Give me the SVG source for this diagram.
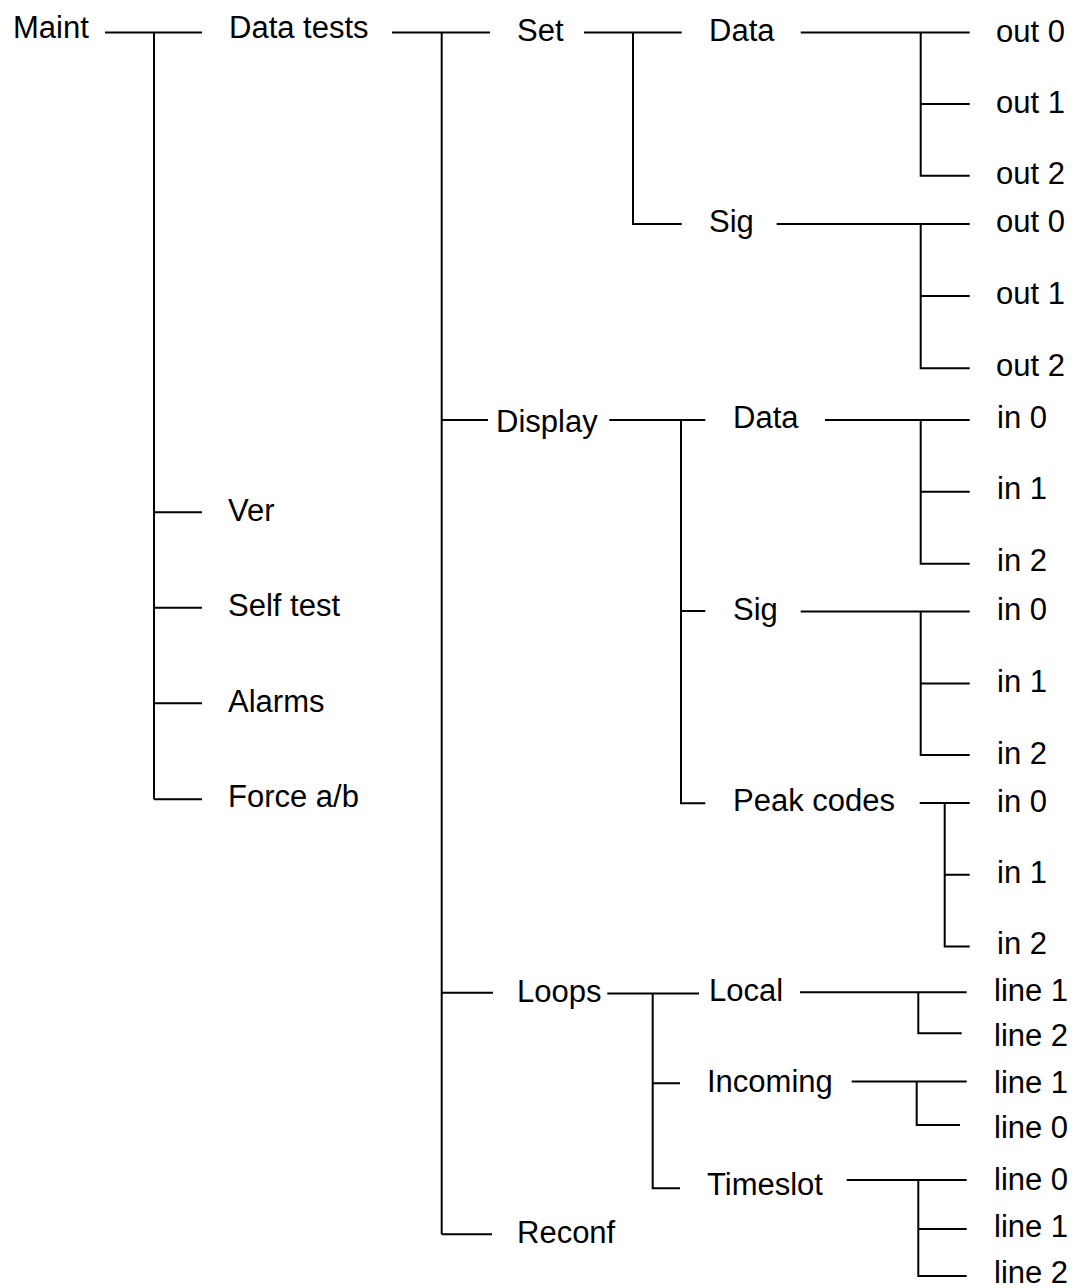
<svg xmlns="http://www.w3.org/2000/svg" width="1074" height="1288" viewBox="0 0 1074 1288">
<style>
text{font-family:"Liberation Sans",Arial,sans-serif;font-size:31px;fill:#000}
.c path{fill:none;stroke:#000;stroke-width:2}
</style>
<rect width="1074" height="1288" fill="#fff"/>
<g class="c" id="connectors">
<path d="M105 32.5H202M154 32.5V799.3M154 512.3H202M154 607.7H202M154 703.3H202M154 799.3H202"/>
<path d="M392 32.5H490M441.7 32.5V1234.3M441.7 420H488M441.7 992.7H493M441.7 1234.3H492"/>
<path d="M584 32.5H681.7M633 32.5V224H681.7"/>
<path d="M800.7 32.5H969.7M920.7 32.5V175.7H969.7M920.7 104H969.7"/>
<path d="M776.7 224H969.7M920.7 224V368.3H969.7M920.7 296H969.7"/>
<path d="M609.3 420H705.3M681 420V803.3H705.3M681 611H705.3"/>
<path d="M825 420H969.7M920.7 420V563.7H969.7M920.7 491.7H969.7"/>
<path d="M800.7 611.5H969.7M920.7 611.5V755H969.7M920.7 683.5H969.7"/>
<path d="M919.7 803H969.7M944.7 803V946.4H969.7M944.7 874.8H969.7"/>
<path d="M607.3 993.5H699M652.7 993.5V1188.3H680M652.7 1083.3H680"/>
<path d="M800 992.3H966.7M918.3 992.3V1033.3H961.7"/>
<path d="M851.7 1081.5H966.7M916.7 1081.5V1125H960"/>
<path d="M846.7 1180H966.7M918.3 1180V1276H966.7M918.3 1229H966.7"/>
</g>
<g id="n-maint"><text x="13" y="38">Maint</text></g>
<g id="n-datatests"><text x="229" y="38">Data tests</text></g>
<g id="n-ver"><text x="228" y="521">Ver</text></g>
<g id="n-selftest"><text x="228" y="616">Self test</text></g>
<g id="n-alarms"><text x="228" y="712">Alarms</text></g>
<g id="n-force"><text x="228" y="807">Force a/b</text></g>
<g id="n-set"><text x="517" y="41">Set</text></g>
<g id="n-set-data"><text x="709" y="41">Data</text></g>
<g id="n-set-data-out0"><text x="996" y="42">out 0</text></g>
<g id="n-set-data-out1"><text x="996" y="113">out 1</text></g>
<g id="n-set-data-out2"><text x="996" y="184">out 2</text></g>
<g id="n-set-sig"><text x="709" y="232">Sig</text></g>
<g id="n-set-sig-out0"><text x="996" y="232">out 0</text></g>
<g id="n-set-sig-out1"><text x="996" y="304">out 1</text></g>
<g id="n-set-sig-out2"><text x="996" y="376">out 2</text></g>
<g id="n-display"><text x="496" y="432">Display</text></g>
<g id="n-disp-data"><text x="733" y="428">Data</text></g>
<g id="n-disp-data-in0"><text x="997" y="428">in 0</text></g>
<g id="n-disp-data-in1"><text x="997" y="499">in 1</text></g>
<g id="n-disp-data-in2"><text x="997" y="571">in 2</text></g>
<g id="n-disp-sig"><text x="733" y="620">Sig</text></g>
<g id="n-disp-sig-in0"><text x="997" y="620">in 0</text></g>
<g id="n-disp-sig-in1"><text x="997" y="692">in 1</text></g>
<g id="n-disp-sig-in2"><text x="997" y="764">in 2</text></g>
<g id="n-peak"><text x="733" y="811">Peak codes</text></g>
<g id="n-peak-in0"><text x="997" y="812">in 0</text></g>
<g id="n-peak-in1"><text x="997" y="883">in 1</text></g>
<g id="n-peak-in2"><text x="997" y="954">in 2</text></g>
<g id="n-loops"><text x="517" y="1002">Loops</text></g>
<g id="n-local"><text x="709" y="1001">Local</text></g>
<g id="n-local-line1"><text x="994" y="1001">line 1</text></g>
<g id="n-local-line2"><text x="994" y="1046">line 2</text></g>
<g id="n-incoming"><text x="707" y="1092">Incoming</text></g>
<g id="n-incoming-line1"><text x="994" y="1093">line 1</text></g>
<g id="n-incoming-line0"><text x="994" y="1138">line 0</text></g>
<g id="n-timeslot"><text x="707" y="1195">Timeslot</text></g>
<g id="n-timeslot-line0"><text x="994" y="1190">line 0</text></g>
<g id="n-timeslot-line1"><text x="994" y="1237">line 1</text></g>
<g id="n-timeslot-line2"><text x="994" y="1283">line 2</text></g>
<g id="n-reconf"><text x="517" y="1243">Reconf</text></g>
</svg>
